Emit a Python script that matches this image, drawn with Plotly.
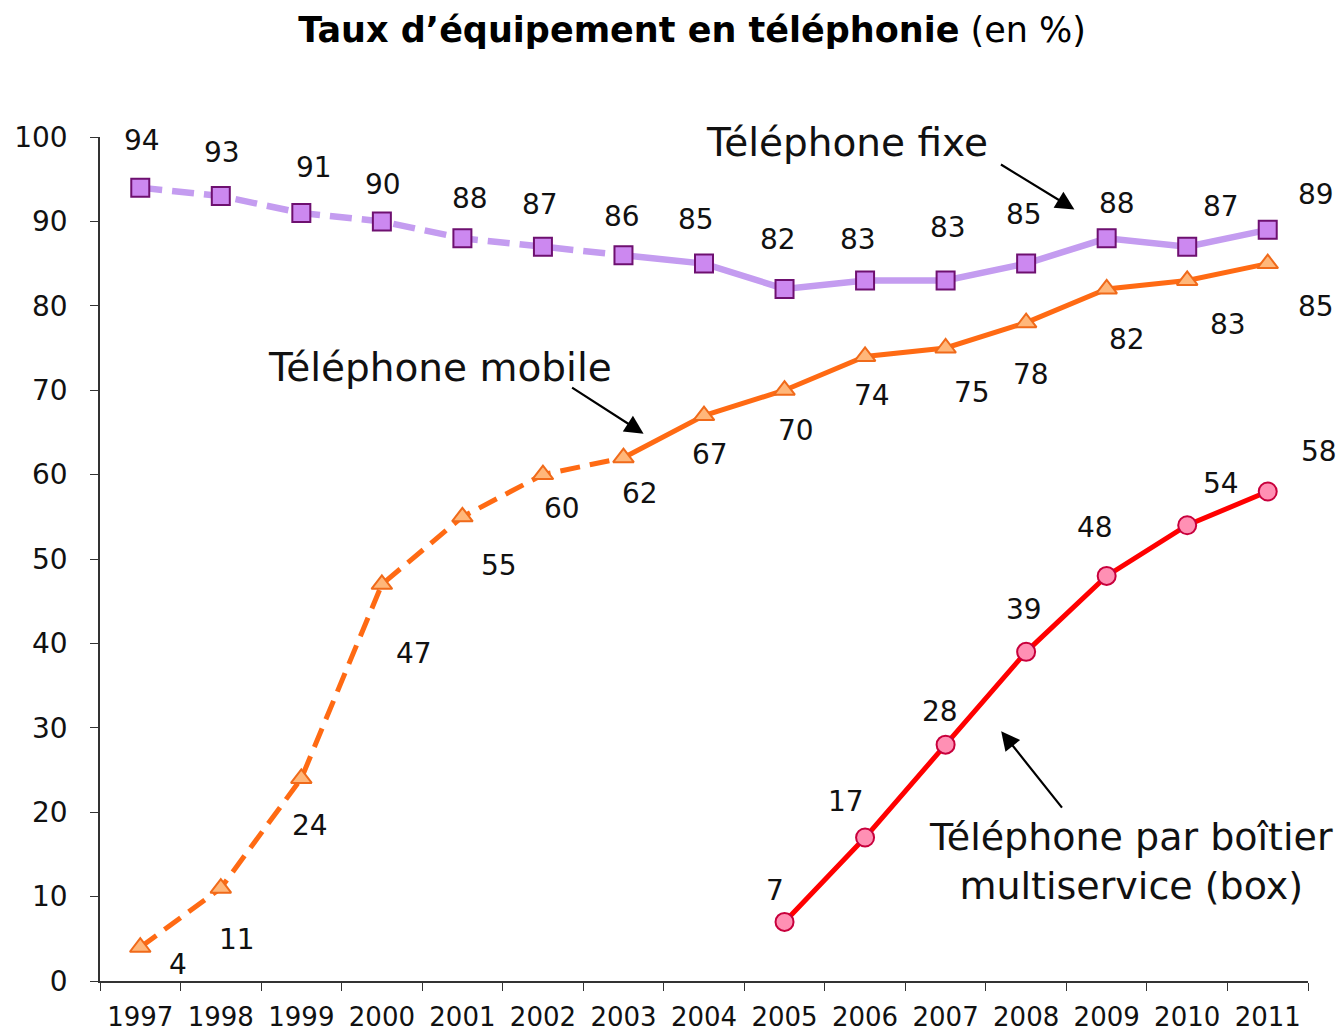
import plotly.graph_objects as go

years = [str(y) for y in range(1997, 2012)]
fixe = [94, 93, 91, 90, 88, 87, 86, 85, 82, 83, 83, 85, 88, 87, 89]
mobile = [4, 11, 24, 47, 55, 60, 62, 67, 70, 74, 75, 78, 82, 83, 85]
box_years = [str(y) for y in range(2005, 2012)]
box = [7, 17, 28, 39, 48, 54, 58]

# label offsets (pixels, screen) relative to each point
fixe_off = [(2, -47), (1, -44), (13, -45), (1, -37), (8, -40), (-3, -42), (-1, -39),
            (-8, -44), (-7, -49), (-7, -41), (2, -53), (-2, -49), (10, -35), (34, -40), (48, -35)]
mobile_off = [(38, 17), (16, 51), (9, 47), (32, 69), (37, 49), (19, 34), (17, 36),
              (6, 39), (11, 40), (7, 39), (26, 44), (5, 52), (20, 51), (41, 44), (48, 43)]
box_off = [(-10, -31), (-19, -36), (-6, -33), (-2, -42), (-12, -48), (34, -42), (51, -40)]

FONT = "DejaVu Sans"
split = 6  # index of 2003

fig = go.Figure()

# Fixe
fig.add_trace(go.Scatter(x=years[:split + 1], y=fixe[:split + 1], mode="lines",
                         line=dict(color="#C49CF0", width=6.5, dash="22px,10px"), hoverinfo="skip"))
fig.add_trace(go.Scatter(x=years[split:], y=fixe[split:], mode="lines",
                         line=dict(color="#C49CF0", width=6.5), hoverinfo="skip"))
fig.add_trace(go.Scatter(x=years, y=fixe, mode="markers",
                         marker=dict(symbol="square", size=18, color="#CC88F0",
                                     line=dict(color="#6E1070", width=2))))
# Mobile
fig.add_trace(go.Scatter(x=years[:split + 1], y=mobile[:split + 1], mode="lines",
                         line=dict(color="#FF6A13", width=5, dash="20px,10px"), hoverinfo="skip"))
fig.add_trace(go.Scatter(x=years[split:], y=mobile[split:], mode="lines",
                         line=dict(color="#FF6A13", width=5), hoverinfo="skip"))
fig.add_trace(go.Scatter(x=years, y=mobile, mode="markers",
                         marker=dict(symbol="triangle-up", size=18, color="#FFB77A",
                                     line=dict(color="#F06A1A", width=2))))
# Box
fig.add_trace(go.Scatter(x=box_years, y=box, mode="lines+markers",
                         line=dict(color="#FF0000", width=5),
                         marker=dict(symbol="circle", size=18, color="#FF90B4",
                                     line=dict(color="#C8003C", width=2))))

annotations = []
for xs, ys, offs in [(years, fixe, fixe_off), (years, mobile, mobile_off), (box_years, box, box_off)]:
    for xv, yv, (dx, dy) in zip(xs, ys, offs):
        annotations.append(dict(x=years.index(xv), y=yv, text=str(yv), showarrow=False,
                                xref="x", yref="y", xshift=dx, yshift=-dy,
                                font=dict(family=FONT, size=28, color="#111111")))

# series labels
annotations += [
    dict(x=8.78, y=99.3, text="Téléphone fixe", showarrow=False,
         font=dict(family=FONT, size=39, color="#111111")),
    dict(x=3.72, y=72.7, text="Téléphone mobile", showarrow=False,
         font=dict(family=FONT, size=39, color="#111111")),
    dict(x=12.3, y=14.2, text="Téléphone par boîtier<br>multiservice (box)", showarrow=False,
         align="center", font=dict(family=FONT, size=38, color="#111111")),
]
# arrows
for hx, hy, ax, ay in [(11.6, 91.4, -75, -46), (6.25, 64.85, -73, -47), (10.69, 29.6, 62, 78)]:
    annotations.append(dict(x=hx, y=hy, ax=ax, ay=ay, text="", showarrow=True,
                            arrowhead=2, arrowsize=1.7, arrowwidth=2.2, arrowcolor="#000000"))

# the page body adds an 8px margin: size and margins compensate for it
fig.update_layout(
    width=1336, height=1024,
    margin=dict(l=92, r=36, t=129, b=51),
    paper_bgcolor="white", plot_bgcolor="white",
    showlegend=False,
    title=dict(text="<b>Taux d’équipement en téléphonie</b> (en %)", x=0.512, xanchor="center",
               y=0.979, yanchor="middle",
               font=dict(family=FONT, size=35, color="#000000")),
    annotations=annotations,
    font=dict(family=FONT),
)
fig.update_xaxes(type="category", tickson="boundaries", ticks="outside", ticklen=8,
                 tickcolor="#333333", showline=True, linecolor="#333333", linewidth=1.5,
                 showgrid=False, range=[-0.5, 14.5], ticklabelstandoff=12, automargin=False,
                 tickfont=dict(family=FONT, size=26, color="#111111"))
fig.update_yaxes(range=[0, 100], tickvals=list(range(0, 101, 10)), ticks="outside", ticklen=8,
                 tickcolor="#333333", showline=True, linecolor="#333333", linewidth=1.5,
                 showgrid=False, zeroline=False, ticklabelstandoff=17, automargin=False,
                 tickfont=dict(family=FONT, size=28, color="#111111"))

fig.write_html("out.html")
